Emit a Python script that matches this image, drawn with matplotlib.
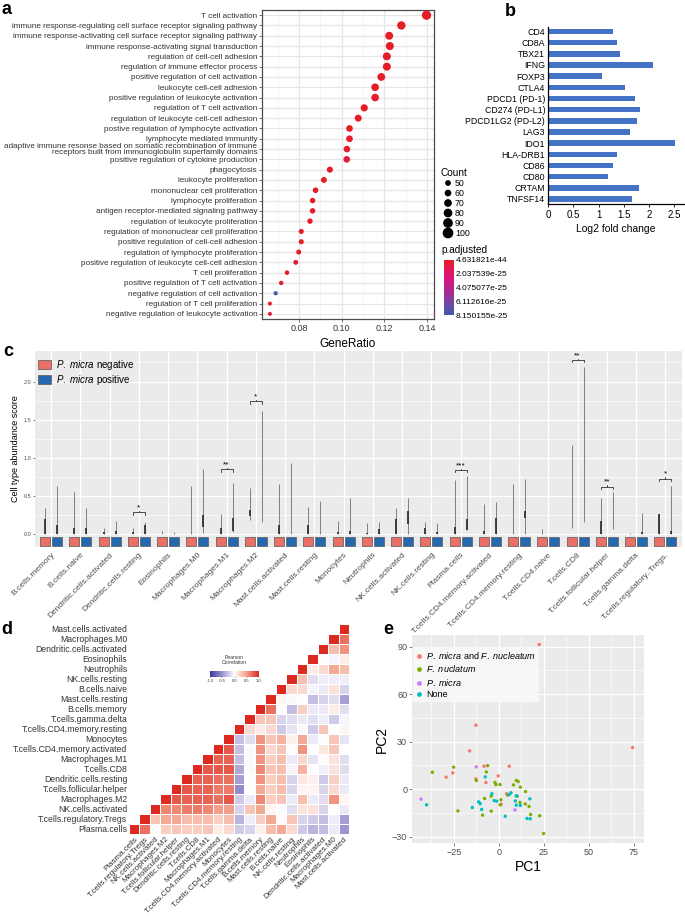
import numpy as np
import matplotlib
matplotlib.use("Agg")
import matplotlib.pyplot as plt
from matplotlib.colors import LinearSegmentedColormap, Normalize
from matplotlib.patches import Patch
from matplotlib.lines import Line2D

plt.rcParams['font.family'] = ['Liberation Sans', 'DejaVu Sans']
plt.rcParams['mathtext.fontset'] = 'custom'
plt.rcParams['mathtext.it'] = 'Liberation Sans:italic'
plt.rcParams['mathtext.rm'] = 'Liberation Sans'

# ---------------- data: panel a (GO enrichment) ----------------
go_terms = [
    "T cell activation",
    "immune response-regulating cell surface receptor signaling pathway",
    "immune response-activating cell surface receptor signaling pathway",
    "immune response-activating signal transduction",
    "regulation of cell-cell adhesion",
    "regulation of immune effector process",
    "positive regulation of cell activation",
    "leukocyte cell-cell adhesion",
    "positive regulation of leukocyte activation",
    "regulation of T cell activation",
    "regulation of leukocyte cell-cell adhesion",
    "postive regulation of lymphocyte activation",
    "lymphocyte mediated immunity",
    "adaptive immune resonse based on somatic recombination of immune\nreceptors built from immunoglobulin superfamily domains",
    "positive regulation of cytokine production",
    "phagocytosis",
    "leukocyte proliferation",
    "mononuclear cell proliferation",
    "lymphocyte proliferation",
    "antigen receptor-mediated signaling pathway",
    "regulation of leukocyte proliferation",
    "regulation of mononuclear cell proliferation",
    "positive regulation of cell-cell adhesion",
    "regulation of lymphocyte proliferation",
    "positive regulation of leukocyte cell-cell adhesion",
    "T cell proliferation",
    "positive regulation of T cell activation",
    "negative regulation of cell activation",
    "regulation of T cell proliferation",
    "negative regulation of leukocyte activation",
]
gene_ratio = [0.1398, 0.1280, 0.1223, 0.1226, 0.1212, 0.1212, 0.1186, 0.1157,
              0.1157, 0.1106, 0.1078, 0.1037, 0.1037, 0.1025, 0.1024, 0.0945,
              0.0917, 0.0878, 0.0864, 0.0864, 0.0852, 0.0811, 0.0811, 0.0799,
              0.0785, 0.0744, 0.0717, 0.0691, 0.0664, 0.0664]
gene_count = [100, 91, 87, 88, 87, 87, 85, 83, 83, 79, 77, 74, 74, 73, 73, 68,
              66, 63, 62, 62, 61, 58, 58, 57, 56, 53, 51, 49, 47, 47]
p_adjust = [4.63e-44, 2.1e-40, 5.5e-38, 6.0e-38, 1.2e-36, 1.5e-36, 3.1e-35,
            8.0e-34, 8.2e-34, 2.2e-32, 1.9e-31, 4.0e-30, 4.2e-30, 6.0e-30,
            6.5e-26, 1.0e-28, 4.0e-28, 2.0e-27, 3.5e-27, 3.6e-27, 5.0e-27,
            1.1e-26, 1.2e-26, 1.8e-26, 2.5e-26, 9.0e-27, 2.0e-26, 8.150155e-25,
            1.5e-26, 8.0e-26]
count_breaks = [50, 60, 70, 80, 90, 100]
p_ticks = [4.631821e-44, 2.037539e-25, 4.075077e-25, 6.112616e-25, 8.150155e-25]
p_tick_labels = ["4.631821e-44", "2.037539e-25", "4.075077e-25",
                 "6.112616e-25", "8.150155e-25"]

# ---------------- data: panel b ----------------
genes = ["CD4", "CD8A", "TBX21", "IFNG", "FOXP3", "CTLA4", "PDCD1 (PD-1)",
         "CD274 (PD-L1)", "PDCD1LG2 (PD-L2)", "LAG3", "IDO1", "HLA-DRB1",
         "CD86", "CD80", "CRTAM", "TNFSF14"]
log2fc = [1.28, 1.36, 1.43, 2.08, 1.07, 1.52, 1.73, 1.82, 1.76, 1.62, 2.52,
          1.36, 1.28, 1.19, 1.80, 1.66]

# ---------------- data: panel c ----------------
cell_types = ["B.cells.memory", "B.cells.naive", "Dendritic.cells.activated",
              "Dendritic.cells.resting", "Eosinophils", "Macrophages.M0",
              "Macrophages.M1", "Macrophages.M2", "Mast.cells.activated",
              "Mast.cells.resting", "Monocytes", "Neutrophils",
              "NK.cells.activated", "NK.cells.resting", "Plasma.cells",
              "T.cells.CD4.memory.activated", "T.cells.CD4.memory.resting",
              "T.cells.CD4.naive", "T.cells.CD8", "T.cells.follicular.helper",
              "T.cells.gamma.delta", "T.cells.regulatory..Tregs."]
neg_min = [0, 0, 0, 0, 0, 0, 0, 0.19, 0, 0, 0, 0, 0, 0, 0, 0, 0, 0, 0.08, 0, 0, 0]
neg_q1 = [0, 0, 0, 0, 0, 0, 0, 0.24, 0, 0, 0, 0, 0, 0, 0, 0, 0, 0, 0.10, 0, 0, 0]
neg_q3 = [0.20, 0.09, 0.03, 0.03, 0.01, 0.0, 0.09, 0.32, 0.12, 0.12, 0.03, 0.02,
          0.20, 0.08, 0.10, 0.04, 0.0, 0.01, 0.10, 0.18, 0.01, 0.27]
neg_max = [0.35, 0.56, 0.08, 0.08, 0.05, 0.63, 0.27, 0.61, 0.66, 0.36, 0.18, 0.15,
           0.34, 0.16, 0.71, 0.40, 0.66, 0.07, 1.17, 0.47, 0.02, 0.27]
pos_min = [0, 0, 0, 0, 0, 0.02, 0.03, 0.16, 0, 0, 0, 0, 0, 0, 0.06, 0, 0, 0, 0.16,
           0.07, 0, 0]
pos_q1 = [0, 0, 0, 0, 0, 0.10, 0.04, 0.16, 0, 0, 0, 0, 0.13, 0, 0.06, 0, 0.22, 0,
          0.16, 0.07, 0, 0]
pos_q3 = [0.12, 0.08, 0.04, 0.12, 0.01, 0.26, 0.22, 0.16, 0.0, 0.0, 0.05, 0.07,
          0.30, 0.03, 0.20, 0.22, 0.30, 0.0, 0.16, 0.07, 0.03, 0.05]
pos_max = [0.63, 0.35, 0.18, 0.16, 0.03, 0.85, 0.67, 1.61, 0.94, 0.44, 0.48, 0.16,
           0.47, 0.15, 0.77, 0.42, 0.72, 0.01, 2.19, 0.56, 0.28, 0.63]
sig_group = [4, 7, 8, 15, 19, 20, 22]
sig_y = [0.29, 0.85, 1.74, 0.84, 2.28, 0.62, 0.73]
sig_text = ["*", "**", "*", "***", "**", "**", "*"]

# ---------------- data: panel d (Pearson correlation, upper triangle) ----------------
corr_labels = ["Plasma.cells", "T.cells.regulatory.Tregs", "NK.cells.activated",
               "Macrophages.M2", "T.cells.follicular.helper",
               "Dendritic.cells.resting", "T.cells.CD8", "Macrophages.M1",
               "T.cells.CD4.memory.activated", "Monocytes",
               "T.cells.CD4.memory.resting", "T.cells.gamma.delta",
               "B.cells.memory", "Mast.cells.resting", "B.cells.naive",
               "NK.cells.resting", "Neutrophils", "Eosinophils",
               "Dendritic.cells.activated", "Macrophages.M0",
               "Mast.cells.activated"]
corr_rows = [
    [0.7, 0.02, 0.25, 0.3, 0.25, 0.25, 0.3, 0.1, 0.2, -0.25, -0.2, 0.08, 0.35, 0.45, 0.2, -0.25, -0.35, -0.3, -0.1, -0.5],
    [0.3, 0.45, 0.45, 0.35, 0.35, 0.35, 0.25, 0.35, -0.35, -0.08, 0.25, 0.45, 0.02, 0.3, -0.2, -0.25, -0.3, -0.08, -0.45],
    [0.6, 0.6, 0.65, 0.65, 0.6, 0.5, 0.5, -0.2, 0.3, 0.45, 0.05, -0.03, -0.15, 0.15, 0.15, -0.2, 0.0, -0.1],
    [0.8, 0.75, 0.75, 0.75, 0.7, 0.8, -0.25, -0.1, 0.6, 0.25, 0.3, -0.1, 0.35, -0.1, -0.15, 0.55, 0.05],
    [0.8, 0.75, 0.75, 0.65, 0.65, -0.55, 0.0, 0.45, 0.25, 0.35, -0.2, 0.06, 0.06, -0.2, 0.2, -0.1],
    [0.75, 0.75, 0.7, 0.7, -0.45, 0.0, 0.55, 0.25, 0.35, -0.2, 0.12, 0.08, -0.25, 0.25, -0.1],
    [0.8, 0.8, 0.8, -0.4, -0.03, 0.6, 0.3, 0.35, -0.05, 0.4, 0.0, -0.07, 0.15, -0.15],
    [0.75, 0.75, -0.3, -0.03, 0.55, 0.25, 0.35, -0.1, 0.2, -0.12, 0.02, 0.15, -0.15],
    [0.8, -0.3, -0.03, 0.55, 0.2, 0.3, 0.02, 0.55, 0.0, 0.12, 0.3, 0.0],
    [-0.3, -0.15, 0.55, 0.3, 0.4, 0.08, 0.45, -0.1, 0.0, 0.3, -0.12],
    [0.2, 0.1, 0.2, -0.25, -0.12, -0.03, -0.25, 0.3, 0.0, 0.06],
    [0.3, 0.3, -0.2, -0.15, -0.1, -0.15, -0.08, -0.25, -0.05],
    [0.7, 0.0, -0.3, 0.25, -0.1, -0.1, 0.1, -0.15],
    [0.05, -0.03, 0.0, -0.3, -0.2, -0.15, -0.45],
    [0.2, 0.2, -0.05, -0.1, 0.15, -0.2],
    [0.35, -0.15, -0.08, -0.08, -0.08],
    [0.1, 0.2, 0.45, 0.35],
    [0.0, -0.05, 0.1],
    [0.35, 0.55],
    [0.7],
    [],
]

# ---------------- data: panel e (PCA) ----------------
both_pc1 = [22.4, -12.8, -16.3, 74.3, 5.7, -8.3, -25.6, -29.3, -0.4, -12.8, -7.2, 4.3, 1.3]
both_pc2 = [91.4, 40.4, 24.2, 26.3, 14.5, 14.5, 10.3, 7.6, 8.4, 6.5, 4.2, -2.9, -9.5]
fn_pc1 = [-37.0, -25.2, -6.3, -7.0, -12.6, -2.2, -1.7, 0.6, 8.1, 9.6, 10.7, 11.9, 14.8,
          4.8, 10.2, -8.0, 1.1, 11.7, 14.6, 16.7, 0.7, -22.8, -4.3, -9.1, 17.6,
          22.6, 24.8, -4.3]
fn_pc2 = [10.7, 13.9, 14.9, 10.9, 5.5, 4.2, 2.9, 2.9, 2.7, 5.5, 4.8, 1.3, -1.5,
          -3.8, -4.4, -5.9, -6.7, -8.4, -9.3, -10.9, -9.9, -13.7, -13.9, -16.4,
          -16.0, -16.8, -28.0, -4.4]
pm_pc1 = [-43.3, -12.6, 8.9]
pm_pc2 = [-6.3, 14.1, -13.1]
none_pc1 = [-40.2, -7.6, -3.9, 5.7, 6.7, 9.6, 17.2, -2.6, -1.3, -11.3, -10.4, 9.1,
            9.6, 11.9, -14.8, -9.6, 3.5, 15.6, 17.4]
none_pc2 = [-9.9, 7.8, -2.9, -3.4, -2.3, -4.2, -6.1, -7.2, -7.6, -8.0, -9.1, -7.4,
            -10.1, -10.3, -11.6, -12.8, -17.1, -18.5, -18.7]

# ---------------- layout helpers ----------------
W, H = 685, 919
fig = plt.figure(figsize=(W / 100, H / 100), dpi=100)


def box(l, t, r, b):
    return [l / W, 1 - b / H, (r - l) / W, (b - t) / H]


ov = fig.add_axes([0, 0, 1, 1], zorder=10)
ov.set_xlim(0, W)
ov.set_ylim(H, 0)
ov.axis("off")

for lab, x, y in [("a", 7, 10), ("b", 510, 12), ("c", 8, 352), ("d", 7, 630), ("e", 388, 630)]:
    ov.text(x, y, lab, fontsize=13, fontweight="bold", ha="center", va="center")

# ---------------- panel a ----------------
p_cmap = LinearSegmentedColormap.from_list(
    "padj", [(0, "#E41E26"), (0.3, "#DE1278"), (0.55, "#B0258E"), (0.8, "#6F49A3"), (1, "#4356A8")])
p_norm = Normalize(p_ticks[0], p_ticks[-1])


def dot_size(c):
    d = 4.0 + (np.asarray(c, float) - 47) * 0.1
    return (d * 0.72) ** 2


ax = fig.add_axes(box(262, 10, 434, 319))
yy = np.arange(len(go_terms))
ax.scatter(gene_ratio, yy, s=dot_size(gene_count), c=p_adjust, cmap=p_cmap,
           norm=p_norm, zorder=3, edgecolors="none")
ax.set_ylim(len(go_terms) - 0.5, -0.5)
ax.set_xlim(0.0627, 0.1433)
ax.set_xticks([0.08, 0.10, 0.12, 0.14])
ax.set_xticklabels(["0.08", "0.10", "0.12", "0.14"])
ax.set_xticks([0.07, 0.09, 0.11, 0.13], minor=True)
ax.set_yticks(yy)
labs = ax.set_yticklabels(go_terms, fontsize=5.9)
labs[13].set_linespacing(0.72)
ax.grid(True, which="major", color="#E6E6E6", lw=0.9, zorder=0)
ax.grid(True, which="minor", axis="x", color="#F0F0F0", lw=0.5, zorder=0)
ax.set_axisbelow(True)
for s in ax.spines.values():
    s.set_color("#4D4D4D")
    s.set_linewidth(0.9)
ax.tick_params(axis="both", which="major", length=2, width=0.5, colors="#333333", pad=1.5)
ax.tick_params(axis="x", labelsize=6.5, colors="#333333")
ax.tick_params(axis="x", which="minor", length=0)
ax.set_xlabel("GeneRatio", fontsize=8.5, labelpad=4)

# legend: Count
ov.text(441, 173, "Count", fontsize=7.2, ha="left", va="center")
leg_y = [183, 193, 203, 213, 223, 233]
ov.scatter([448] * len(count_breaks), leg_y, s=dot_size(count_breaks), color="black")
for cb, ly in zip(count_breaks, leg_y):
    ov.text(455, ly, str(cb), fontsize=6.3, ha="left", va="center")
ov.text(441, 250, "p.adjusted", fontsize=7.2, ha="left", va="center")
cax = fig.add_axes(box(444, 258, 454, 317))
rng = p_ticks[-1] - p_ticks[0]
grad = np.linspace(p_ticks[0], p_ticks[-1], 256)
cax.pcolormesh([0, 1], np.linspace(p_ticks[0], p_ticks[-1], 257), grad.reshape(-1, 1),
               cmap=p_cmap, norm=p_norm)
cax.set_ylim(p_ticks[-1] + 0.03 * rng, p_ticks[0] - 0.03 * rng)
cax.set_xlim(0, 1)
cax.set_xticks([])
cax.yaxis.tick_right()
cax.set_yticks(p_ticks)
cax.set_yticklabels(p_tick_labels, fontsize=6)
cax.tick_params(axis="y", length=0, pad=1.5)
for s in cax.spines.values():
    s.set_visible(False)

# ---------------- panel b ----------------
bx = fig.add_axes(box(548, 27, 684, 204))
by = np.arange(len(genes))
bx.barh(by, log2fc, height=0.5, color="#4472C4")
bx.set_ylim(len(genes) - 0.55, -0.4)
bx.set_xlim(0, 2.69)
bx.set_yticks(by)
bx.set_yticklabels(genes, fontsize=6.3)
bx.set_xticks([0, 0.5, 1, 1.5, 2, 2.5])
bx.set_xticklabels(["0", "0.5", "1", "1.5", "2", "2.5"], fontsize=7)
bx.tick_params(axis="y", length=0, pad=2)
bx.tick_params(axis="x", length=2.5, width=0.6, pad=1.5)
bx.spines["top"].set_visible(False)
bx.spines["right"].set_visible(False)
bx.spines["left"].set_linewidth(0.9)
bx.spines["bottom"].set_linewidth(0.9)
bx.set_xlabel("Log2 fold change", fontsize=7.5, labelpad=3)

# ---------------- panel c ----------------
neg_col, pos_col = "#EC6F67", "#2468B0"
cx = fig.add_axes(box(35, 351, 682, 547))
cx.set_facecolor("#EBEBEB")
gx = np.arange(1, len(cell_types) + 1)
off = 0.205
cx.vlines(gx - off, neg_min, neg_max, color="#6E6E6E", lw=0.6, zorder=2)
cx.vlines(gx + off, pos_min, pos_max, color="#6E6E6E", lw=0.6, zorder=2)
cx.vlines(gx - off, neg_q1, neg_q3, color="#333333", lw=1.3, zorder=3)
cx.vlines(gx + off, pos_q1, pos_q3, color="#333333", lw=1.3, zorder=3)
cx.bar(gx - off, 0.118, bottom=-0.149, width=0.34, color=neg_col, edgecolor="#666666", lw=0.6, zorder=4)
cx.bar(gx + off, 0.118, bottom=-0.149, width=0.34, color=pos_col, edgecolor="#666666", lw=0.6, zorder=4)
for g, sy, st in zip(sig_group, sig_y, sig_text):
    cx.plot([g - off, g - off, g + off, g + off], [sy - 0.03, sy, sy, sy - 0.03], color="#333333", lw=0.6)
    cx.plot([g, g], [sy, sy + 0.02], color="#333333", lw=0.6)
    cx.text(g, sy + 0.015, st, fontsize=6, ha="center", va="bottom")
cx.set_xlim(0.45, 22.57)
cx.set_ylim(-0.165, 2.40)
cx.set_yticks([0, 0.5, 1.0, 1.5, 2.0])
cx.set_yticklabels(["0.0", "0.5", "1.0", "1.5", "2.0"], fontsize=4, color="#4D4D4D")
cx.set_yticks([0.25, 0.75, 1.25, 1.75, 2.25], minor=True)
cx.set_xticks(gx)
cx.set_xticklabels(cell_types, rotation=45, ha="right", rotation_mode="anchor",
                   fontsize=6, color="#4D4D4D")
cx.tick_params(axis="x", length=0, pad=3)
cx.tick_params(axis="y", length=1.5, width=0.5, color="#4D4D4D", pad=1)
cx.tick_params(axis="y", which="minor", length=0)
cx.grid(True, which="major", color="white", lw=0.9)
cx.grid(True, which="minor", axis="y", color="white", lw=0.45)
cx.set_axisbelow(True)
for s in cx.spines.values():
    s.set_visible(False)
cx.set_ylabel("Cell type abundance score", fontsize=6.5, labelpad=3)
cx.legend(handles=[Patch(facecolor=neg_col, edgecolor="#666666", lw=0.6),
                   Patch(facecolor=pos_col, edgecolor="#666666", lw=0.6)],
          labels=[r"$\mathit{P.\ micra}$ negative", r"$\mathit{P.\ micra}$ positive"],
          loc="upper left", bbox_to_anchor=(0.005, 0.965), frameon=False, fontsize=7,
          handlelength=1.3, handleheight=0.9, handletextpad=0.5, labelspacing=0.1,
          borderaxespad=0, borderpad=0)

# ---------------- panel d ----------------
n = len(corr_labels)
M = np.full((n, n), np.nan)
for i in range(n):
    M[i, i] = 1.0
    for k, v in enumerate(corr_rows[i]):
        M[i, i + 1 + k] = v
r_cmap = LinearSegmentedColormap.from_list(
    "corr", [(0, "#3A3C99"), (0.25, "#9D94CF"), (0.5, "#FFFFFF"), (0.75, "#F3A08A"), (1, "#DC2A21")])
dx = fig.add_axes(box(129, 624, 349, 834))
dx.pcolormesh(np.arange(n + 1), np.arange(n + 1), np.ma.masked_invalid(M), cmap=r_cmap,
              vmin=-1, vmax=1, edgecolors="white", linewidth=0.6)
dx.set_xlim(0, n)
dx.set_ylim(0, n)
dx.set_xticks(np.arange(n) + 0.5)
dx.set_yticks(np.arange(n) + 0.5)
dx.set_xticklabels(corr_labels, rotation=45, ha="right", rotation_mode="anchor",
                   fontsize=5.8, color="#333333")
dx.set_yticklabels(corr_labels, fontsize=6.2, color="#333333")
dx.tick_params(length=0, pad=1.2)
for s in dx.spines.values():
    s.set_visible(False)
# correlation colour key
kx = fig.add_axes(box(210, 671, 259, 677))
kx.imshow(np.linspace(-1, 1, 200).reshape(1, -1), aspect="auto", cmap=r_cmap,
          extent=[-1, 1, 0, 1], vmin=-1, vmax=1)
kx.set_yticks([])
kx.set_xticks([-1, -0.5, 0, 0.5, 1])
kx.set_xticklabels(["-1.0", "-0.5", "0.0", "0.5", "1.0"], fontsize=3)
kx.tick_params(axis="x", length=1, width=0.3, pad=0.8, colors="#333333")
for s in kx.spines.values():
    s.set_visible(False)
ov.text(234.5, 665, "Pearson\nCorrelation", fontsize=3.6, ha="center", va="bottom",
        color="#333333", linespacing=1.0)

# ---------------- panel e ----------------
ex = fig.add_axes(box(412, 635, 644, 843))
ex.set_facecolor("#EBEBEB")
e_cols = ["#F8766D", "#7CAE00", "#C77CFF", "#00BFC4"]
ex.scatter(both_pc1, both_pc2, s=6, color=e_cols[0], edgecolors="none", zorder=3)
ex.scatter(fn_pc1, fn_pc2, s=6, color=e_cols[1], edgecolors="none", zorder=3)
ex.scatter(pm_pc1, pm_pc2, s=6, color=e_cols[2], edgecolors="none", zorder=3)
ex.scatter(none_pc1, none_pc2, s=6, color=e_cols[3], edgecolors="none", zorder=3)
ex.set_xlim(-48.3, 80.6)
ex.set_ylim(-34, 97.4)
ex.set_xticks([-25, 0, 25, 50, 75])
ex.set_yticks([-30, 0, 30, 60, 90])
ex.set_xticks([-37.5, -12.5, 12.5, 37.5, 62.5], minor=True)
ex.set_yticks([-15, 15, 45, 75], minor=True)
ex.grid(True, which="major", color="white", lw=0.9)
ex.grid(True, which="minor", color="white", lw=0.45)
ex.set_axisbelow(True)
for s in ex.spines.values():
    s.set_visible(False)
ex.tick_params(axis="both", which="major", length=2, width=0.5, color="#4D4D4D",
               labelsize=6.5, labelcolor="#4D4D4D", pad=1.5)
ex.tick_params(which="minor", length=0)
ex.set_xlabel("PC1", fontsize=10, labelpad=2)
ex.set_ylabel("PC2", fontsize=10, labelpad=2)
e_handles = [Line2D([], [], marker="o", ls="", markersize=3.4, color=c, markeredgewidth=0)
             for c in e_cols]
e_labels = [r"$\mathit{P.\ micra}$ and $\mathit{F.\ nucleatum}$",
            r"$\mathit{F.\ nuclatum}$", r"$\mathit{P.\ micra}$", "None"]
ex.legend(e_handles, e_labels, loc="upper left", bbox_to_anchor=(0.004, 0.94),
          fontsize=6.5, frameon=True, facecolor="#F7F7F7", edgecolor="none",
          framealpha=1, fancybox=False, borderaxespad=0, borderpad=0.3,
          handlelength=0.8, handletextpad=0.4, labelspacing=0.25)

fig.savefig("out.png", dpi=100)
